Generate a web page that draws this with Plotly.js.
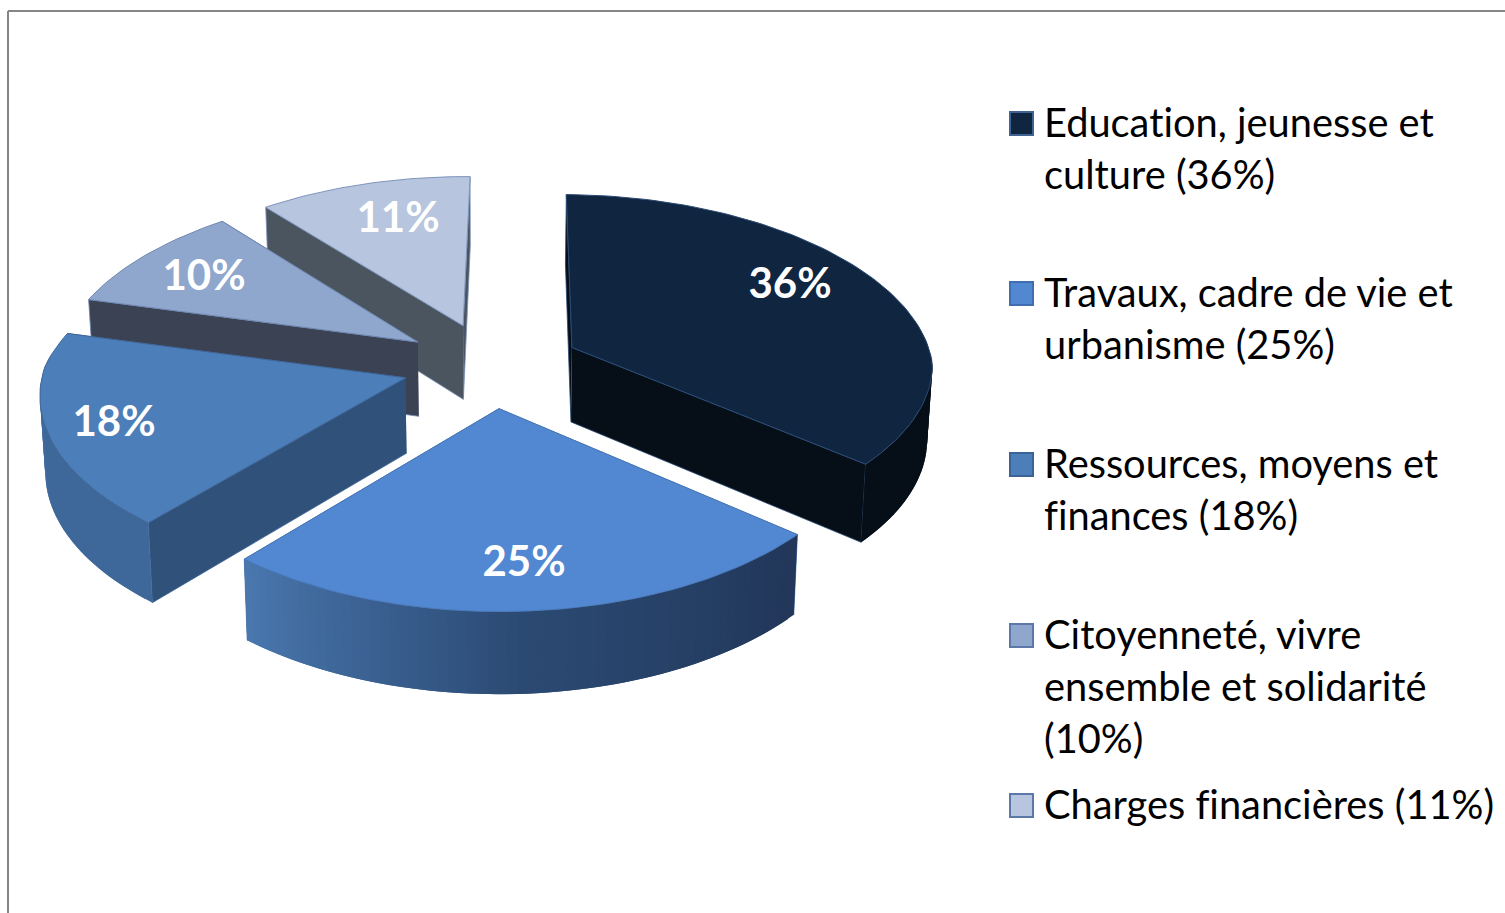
<!DOCTYPE html>
<html><head><meta charset="utf-8">
<script src="https://cdn.plot.ly/plotly-3.0.1.min.js"></script>
<style>html,body{margin:0;padding:0;background:#fff}#c{width:1505px;height:913px}svg text{font-variant-ligatures:none;font-feature-settings:"liga" 0}</style>
</head><body><div id="c"></div>
<script>
// ---- chart data ----
const categories = ["Education, jeunesse et culture","Travaux, cadre de vie et urbanisme","Ressources, moyens et finances","Citoyenneté, vivre ensemble et solidarité","Charges financières"];
const values = [36,25,18,10,11];
const legendLines = [["Education, jeunesse et","culture (36%)"],["Travaux, cadre de vie et","urbanisme (25%)"],["Ressources, moyens et","finances (18%)"],["Citoyenneté, vivre","ensemble et solidarité","(10%)"],["Charges financières (11%)"]];
// ---- styles ----
const topColors = ["#0f2540","#5288d1","#4c7eb9","#8fa6cd","#b7c5de"];
const edgeColors = ["#2b4a75","#4a78b8","#41689a","#6f88b0","#7f95bd"];
const wallColors = ["#060f17","#2a4669","#30527a","#3b4254","#4b5560"];
const outerFrom = ["#060f17","#4a78b0","#4a76ad","#3b4254","#4b5560"];
const outerMid  = ["#060f17","#2b4a73","#3e6899","#3b4254","#4b5560"];
const outerTo   = ["#060f17","#22375a","#3e6899","#3b4254","#4b5560"];
const swatchColors = ["#0f2540","#5288d1","#4c7eb9","#8fa6cd","#b7c5de"];
const swatchEdge = ["#3f6492","#3f6fb0","#3a6396","#5b78a8","#5b78a8"];
const labelPos = [[790,287],[524,565],[114,425],[204,279],[398,221]];
const legendY = [[121,173],[291,343],[462,514],[633,685,737],[803]];
// ---- projection ----
const cx=491.5, cy=365, pull=88, R=355, b=0.485, D=3425, H=75, startAngle=0.012;
function proj(X,Y,z){ const s=1/(1-Y/D); return [cx+X*1.018*Math.pow(s,Y<0?1.27:0.8)*(1-0.012*z), cy+b*Y*s+H*z*Math.pow(s,0.7)]; }
function hex(c){return [1,3,5].map(i=>parseInt(c.substr(i,2),16));}
function mix(a,b,t){const A=hex(a),B=hex(b);return 'rgb('+A.map((v,i)=>Math.round(v+(B[i]-v)*t)).join(',')+')';}
const total=values.reduce((a,v)=>a+v,0);
const slices=[];let acc=0;
values.forEach((v,i)=>{const a0=startAngle+acc/total*2*Math.PI,a1=startAngle+(acc+v)/total*2*Math.PI;acc+=v;
  const m=(a0+a1)/2; slices.push({i,a0,a1,ox:pull*Math.sin(m),oy:-pull*Math.cos(m)});});
function pt(s,a,r,z){return proj(s.ox+r*Math.sin(a),s.oy-r*Math.cos(a),z);}
function poly(pts,fill,line,w){return {type:'scatter',mode:'lines',x:pts.map(p=>p[0]),y:pts.map(p=>p[1]),fill:'toself',fillcolor:fill,line:{color:line,width:w},hoverinfo:'skip',showlegend:false};}
const traces=[];
[4,3,0,2,1].forEach(k=>{const s=slices[k],n=Math.max(12,Math.round((s.a1-s.a0)*40));
  // radial walls
  [s.a1,s.a0].forEach(a=>traces.push(poly([pt(s,0,0,0),pt(s,a,R,0),pt(s,a,R,1),pt(s,0,0,1)],wallColors[k],edgeColors[k],0.8)));
  // outer wall, split to give a shading ramp; each piece overlaps the next to hide seams
  const step=(s.a1-s.a0)/n;
  for(let j=n-1;j>=0;j--){const a=s.a0+step*j,c=Math.min(s.a1,a+step*2);
    if(Math.cos(a+step/2)>0.12)continue;
    const t=1-j/(n-1);
    const col=t<0.5?mix(outerFrom[k],outerMid[k],t*2):mix(outerMid[k],outerTo[k],(t-0.5)*2);
    const pts=[];for(let q=0;q<=4;q++)pts.push(pt(s,a+(c-a)*q/4,R,0));for(let q=4;q>=0;q--)pts.push(pt(s,a+(c-a)*q/4,R,1));
    traces.push({type:'scatter',mode:'lines',x:pts.map(p=>p[0]),y:pts.map(p=>p[1]),fill:'toself',fillcolor:col,line:{width:0},hoverinfo:'skip',showlegend:false});}
  // top face
  const top=[pt(s,0,0,0)];for(let j=0;j<=n;j++)top.push(pt(s,s.a0+step*j,R,0));top.push(pt(s,0,0,0));
  traces.push(poly(top,topColors[k],edgeColors[k],1));
});
// percentage labels
traces.push({type:'scatter',mode:'text',x:labelPos.map(p=>p[0]),y:labelPos.map(p=>p[1]),text:values.map(v=>v+'%'),
  textposition:'middle center',textfont:{family:'Lato, Carlito, sans-serif',size:42,color:'#ffffff',weight:700},hoverinfo:'skip',showlegend:false});
// legend
const annotations=[],shapes=[];
legendLines.forEach((ls,i)=>{ls.forEach((t,j)=>annotations.push({xref:'x',yref:'y',x:1041.5,y:legendY[i][j],text:t,showarrow:false,xanchor:'left',yanchor:'middle',font:{family:'Lato, Carlito, sans-serif',size:39.8,color:'#000'}}));
  const y=legendY[i][0]+2;
  shapes.push({type:'rect',xref:'x',yref:'y',x0:1010,x1:1033,y0:y-11,y1:y+12,fillcolor:swatchColors[i],line:{color:swatchEdge[i],width:2}});});
// outer frame
shapes.push({type:'line',xref:'x',yref:'y',x0:8,x1:1505,y0:11,y1:11,line:{color:'#868686',width:2}});
shapes.push({type:'line',xref:'x',yref:'y',x0:8,x1:8,y0:11,y1:913,line:{color:'#868686',width:2}});
const axis={visible:false,fixedrange:true};
Plotly.newPlot('c',traces,{width:1505,height:913,margin:{l:0,r:0,t:0,b:0},paper_bgcolor:'#fff',plot_bgcolor:'#fff',
  xaxis:{...axis,range:[0,1505]},yaxis:{...axis,range:[913,0]},showlegend:false,annotations,shapes},{displayModeBar:false,staticPlot:true});
</script></body></html>
